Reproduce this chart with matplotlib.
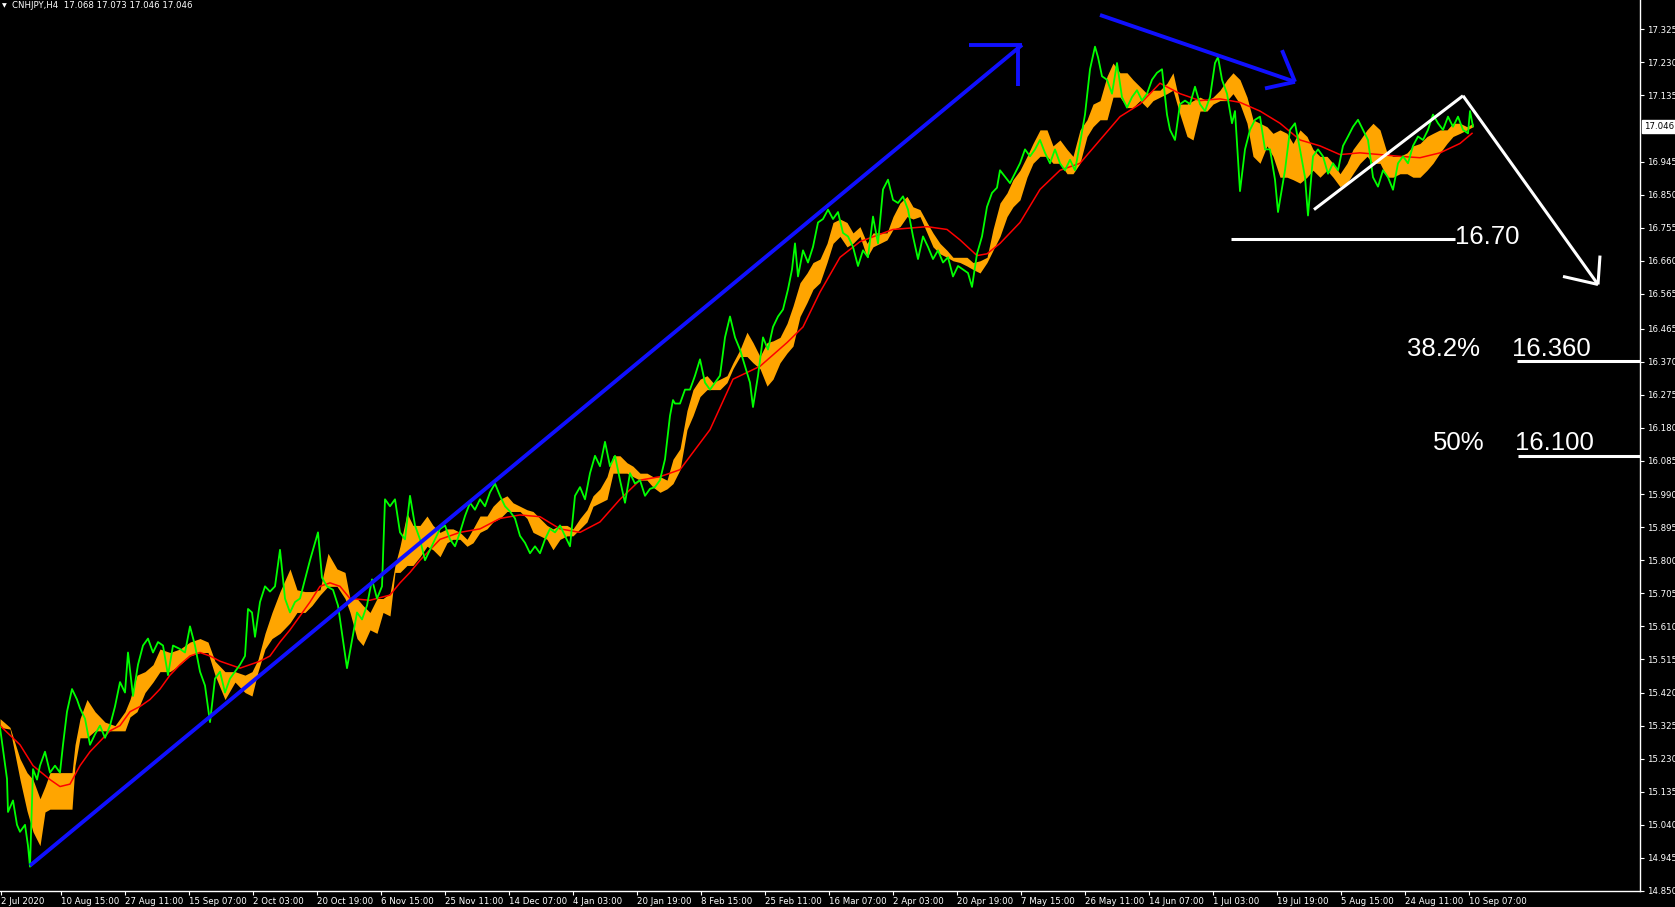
import matplotlib
matplotlib.use("Agg")
import matplotlib.pyplot as plt

# CNHJPY H4 (x = bar position, price in JPY)

green_x = [0, 7, 8, 13, 17, 20, 25, 28, 30, 33, 37, 40, 45, 50, 55, 60, 63, 67, 72, 77,
           80, 85, 90, 95, 100, 105, 110, 115, 120, 125, 128, 133, 138, 143, 148, 153, 158, 163, 168, 173,
           180, 185, 190, 195, 200, 205, 210, 215, 220, 225, 230, 235, 240, 245, 248, 252, 255, 260, 265, 270,
           275, 280, 285, 290, 295, 300, 305, 310, 315, 318, 322, 327, 333, 338, 342, 347, 352, 357, 362, 367,
           372, 377, 382, 385, 390, 395, 400, 405, 410, 415, 420, 425, 430, 435, 440, 445, 450, 455, 460, 465,
           470, 475, 480, 485, 490, 495, 500, 505, 510, 515, 520, 525, 530, 535, 540, 545, 550, 555, 560, 565,
           570, 575, 580, 585, 590, 595, 600, 605, 610, 615, 620, 625, 630, 635, 640, 645, 650, 655, 660, 665,
           670, 673, 675, 680, 685, 690, 695, 700, 705, 710, 715, 720, 725, 730, 735, 740, 745, 750, 753, 758,
           763, 768, 773, 778, 783, 788, 792, 795, 798, 803, 808, 813, 818, 823, 828, 833, 838, 843, 848, 853,
           858, 863, 868, 873, 878, 883, 888, 893, 898, 903, 908, 913, 918, 923, 928, 933, 938, 943, 948, 953,
           958, 963, 968, 972, 977, 982, 987, 992, 997, 1000, 1010, 1020, 1025, 1030, 1035, 1040, 1045, 1050, 1055, 1060,
           1065, 1070, 1075, 1080, 1085, 1090, 1095, 1098, 1102, 1107, 1112, 1117, 1122, 1127, 1132, 1137, 1142, 1147, 1152, 1157,
           1162, 1167, 1170, 1175, 1180, 1185, 1190, 1195, 1200, 1205, 1210, 1215, 1218, 1222, 1227, 1232, 1235, 1240, 1245, 1250,
           1255, 1260, 1265, 1270, 1275, 1278, 1285, 1290, 1295, 1300, 1305, 1308, 1313, 1318, 1323, 1328, 1333, 1338, 1343, 1348,
           1353, 1358, 1363, 1368, 1373, 1378, 1383, 1388, 1393, 1398, 1403, 1408, 1413, 1418, 1423, 1428, 1433, 1438, 1443, 1448,
           1453, 1458, 1463, 1468, 1470, 1473]
green_close = [15.32, 15.172, 15.077, 15.11, 15.04, 15.02, 15.04, 14.98, 14.92, 15.20, 15.17, 15.21, 15.25, 15.19, 15.21, 15.19, 15.27, 15.365, 15.43, 15.40,
               15.375, 15.345, 15.27, 15.30, 15.325, 15.29, 15.325, 15.38, 15.45, 15.42, 15.535, 15.41, 15.50, 15.555, 15.575, 15.535, 15.565, 15.555, 15.47, 15.555,
               15.545, 15.535, 15.61, 15.555, 15.48, 15.44, 15.335, 15.46, 15.48, 15.42, 15.46, 15.48, 15.50, 15.525, 15.66, 15.65, 15.58, 15.68, 15.725, 15.71,
               15.725, 15.83, 15.69, 15.65, 15.68, 15.69, 15.745, 15.80, 15.85, 15.88, 15.75, 15.725, 15.715, 15.67, 15.59, 15.49, 15.57, 15.65, 15.63, 15.67,
               15.745, 15.69, 15.725, 15.975, 15.955, 15.975, 15.88, 15.86, 15.985, 15.90, 15.86, 15.80, 15.83, 15.86, 15.89, 15.90, 15.86, 15.84, 15.88, 15.927,
               15.965, 15.945, 15.975, 15.955, 15.995, 16.02, 15.985, 15.955, 15.94, 15.92, 15.87, 15.85, 15.82, 15.84, 15.82, 15.86, 15.89, 15.88, 15.90, 15.87,
               15.84, 15.985, 16.01, 15.975, 16.05, 16.10, 16.07, 16.14, 16.07, 16.10, 16.03, 15.965, 16.05, 16.02, 16.03, 15.985, 16.005, 16.01, 16.03, 16.09,
               16.215, 16.26, 16.25, 16.25, 16.29, 16.29, 16.33, 16.377, 16.31, 16.29, 16.31, 16.33, 16.44, 16.50, 16.44, 16.405, 16.357, 16.31, 16.24, 16.33,
               16.44, 16.405, 16.47, 16.50, 16.52, 16.578, 16.635, 16.71, 16.615, 16.69, 16.655, 16.70, 16.77, 16.78, 16.807, 16.78, 16.80, 16.74, 16.73, 16.70,
               16.645, 16.69, 16.67, 16.787, 16.71, 16.865, 16.893, 16.835, 16.826, 16.845, 16.807, 16.73, 16.665, 16.73, 16.70, 16.665, 16.69, 16.655, 16.67, 16.615,
               16.645, 16.635, 16.625, 16.585, 16.68, 16.73, 16.815, 16.855, 16.87, 16.92, 16.883, 16.94, 16.98, 16.96, 16.98, 17.007, 16.97, 16.94, 16.98, 16.94,
               16.92, 16.95, 16.92, 16.997, 17.08, 17.21, 17.275, 17.245, 17.19, 17.18, 17.14, 17.228, 17.13, 17.10, 17.13, 17.15, 17.12, 17.14, 17.18, 17.20,
               17.21, 17.08, 17.036, 17.007, 17.11, 17.12, 17.11, 17.16, 17.11, 17.09, 17.13, 17.228, 17.245, 17.18, 17.14, 17.055, 17.09, 16.86, 16.98, 17.036,
               17.065, 17.074, 16.98, 16.98, 16.893, 16.80, 16.92, 17.036, 17.055, 16.98, 16.90, 16.79, 16.96, 16.98, 16.96, 16.91, 16.94, 16.92, 16.99, 17.017,
               17.045, 17.065, 17.036, 17.007, 16.90, 16.873, 16.92, 16.90, 16.864, 16.94, 16.96, 16.94, 16.99, 17.017, 17.007, 17.036, 17.08, 17.055, 17.036, 17.074,
               17.045, 17.074, 17.036, 17.026, 17.09, 17.046]

# orange cloud (upper / lower edge)
cloud_x = [0, 10, 20, 27, 33, 40, 45, 50, 60, 72, 75, 80, 87, 95, 105, 115, 125, 130, 137, 145,
           153, 160, 170, 180, 190, 200, 208, 215, 225, 235, 245, 252, 258, 265, 272, 280, 290, 297, 305, 312,
           320, 328, 337, 345, 350, 357, 363, 370, 377, 383, 390, 395, 400, 407, 413, 420, 427, 433, 440, 447,
           453, 460, 467, 473, 480, 487, 493, 500, 507, 513, 520, 527, 533, 540, 547, 553, 560, 567, 573, 580,
           587, 593, 600, 607, 613, 620, 627, 633, 640, 647, 653, 660, 667, 673, 680, 687, 693, 700, 707, 713,
           720, 727, 733, 740, 747, 753, 760, 767, 773, 780, 787, 793, 800, 807, 813, 820, 827, 833, 840, 847,
           853, 860, 867, 873, 880, 887, 893, 900, 907, 913, 920, 927, 933, 940, 947, 953, 960, 967, 973, 980,
           987, 993, 1000, 1007, 1013, 1020, 1027, 1033, 1040, 1047, 1053, 1060, 1067, 1073, 1080, 1087, 1093, 1100, 1107, 1113,
           1120, 1127, 1133, 1140, 1147, 1153, 1160, 1167, 1173, 1180, 1187, 1193, 1200, 1207, 1213, 1220, 1227, 1233, 1240, 1247,
           1253, 1260, 1267, 1273, 1280, 1287, 1293, 1300, 1307, 1313, 1320, 1327, 1333, 1340, 1347, 1353, 1360, 1367, 1373, 1380,
           1387, 1393, 1400, 1407, 1413, 1420, 1427, 1433, 1440, 1447, 1453, 1460, 1467, 1473]
cloud_top = [15.345, 15.32, 15.23, 15.19, 15.17, 15.115, 15.15, 15.19, 15.19, 15.19, 15.27, 15.345, 15.40, 15.365, 15.335, 15.325, 15.365, 15.40, 15.47, 15.48,
             15.50, 15.545, 15.535, 15.545, 15.565, 15.575, 15.565, 15.51, 15.48, 15.48, 15.47, 15.48, 15.515, 15.59, 15.65, 15.71, 15.775, 15.715, 15.71, 15.71,
             15.715, 15.82, 15.775, 15.765, 15.69, 15.69, 15.67, 15.65, 15.69, 15.69, 15.705, 15.785, 15.84, 15.935, 15.90, 15.90, 15.927, 15.90, 15.88, 15.89,
             15.89, 15.88, 15.86, 15.89, 15.927, 15.927, 15.955, 15.975, 15.985, 15.965, 15.955, 15.945, 15.94, 15.92, 15.90, 15.89, 15.90, 15.90, 15.89, 15.92,
             15.945, 15.985, 16.005, 16.04, 16.10, 16.10, 16.08, 16.07, 16.05, 16.05, 16.04, 16.04, 16.03, 16.09, 16.12, 16.23, 16.29, 16.32, 16.33, 16.31,
             16.32, 16.33, 16.367, 16.405, 16.455, 16.425, 16.385, 16.425, 16.43, 16.44, 16.48, 16.53, 16.597, 16.625, 16.655, 16.665, 16.71, 16.77, 16.78, 16.77,
             16.74, 16.758, 16.71, 16.74, 16.74, 16.74, 16.787, 16.826, 16.845, 16.815, 16.807, 16.77, 16.74, 16.71, 16.69, 16.67, 16.67, 16.67, 16.655, 16.66,
             16.67, 16.75, 16.826, 16.855, 16.893, 16.92, 16.96, 16.997, 17.036, 17.036, 16.99, 17.007, 16.98, 16.96, 17.036, 17.065, 17.11, 17.12, 17.19, 17.228,
             17.20, 17.20, 17.18, 17.16, 17.14, 17.15, 17.15, 17.17, 17.20, 17.11, 17.11, 17.12, 17.13, 17.12, 17.13, 17.15, 17.18, 17.20, 17.18, 17.13,
             17.065, 17.055, 17.045, 17.026, 17.036, 17.026, 16.997, 17.036, 17.017, 16.98, 16.96, 16.96, 16.94, 16.91, 16.94, 16.98, 17.007, 17.036, 17.055, 17.036,
             16.97, 16.96, 16.96, 16.97, 16.99, 16.997, 17.017, 17.026, 17.036, 17.036, 17.055, 17.055, 17.045, 17.055]
cloud_bot = [15.32, 15.315, 15.17, 15.08, 15.02, 14.98, 15.077, 15.085, 15.085, 15.085, 15.21, 15.29, 15.29, 15.31, 15.31, 15.31, 15.31, 15.35, 15.365, 15.42,
             15.45, 15.48, 15.48, 15.50, 15.525, 15.535, 15.535, 15.47, 15.40, 15.45, 15.42, 15.41, 15.48, 15.545, 15.575, 15.59, 15.62, 15.65, 15.65, 15.67,
             15.70, 15.725, 15.725, 15.69, 15.65, 15.575, 15.555, 15.60, 15.59, 15.65, 15.64, 15.765, 15.765, 15.785, 15.785, 15.81, 15.84, 15.83, 15.81, 15.85,
             15.86, 15.86, 15.84, 15.85, 15.88, 15.89, 15.91, 15.92, 15.94, 15.94, 15.94, 15.92, 15.88, 15.87, 15.86, 15.83, 15.86, 15.87, 15.87, 15.89,
             15.91, 15.955, 15.965, 15.975, 16.05, 16.05, 16.05, 16.04, 16.03, 16.03, 16.01, 15.995, 16.005, 16.02, 16.06, 16.175, 16.215, 16.27, 16.29, 16.29,
             16.29, 16.31, 16.35, 16.385, 16.385, 16.367, 16.35, 16.30, 16.32, 16.367, 16.395, 16.415, 16.50, 16.54, 16.578, 16.597, 16.655, 16.71, 16.73, 16.70,
             16.71, 16.73, 16.67, 16.70, 16.71, 16.72, 16.75, 16.758, 16.787, 16.78, 16.787, 16.74, 16.70, 16.68, 16.67, 16.66, 16.655, 16.645, 16.635, 16.625,
             16.655, 16.69, 16.73, 16.787, 16.815, 16.835, 16.90, 16.94, 16.96, 16.96, 16.94, 16.94, 16.91, 16.91, 16.94, 17.017, 17.045, 17.065, 17.065, 17.13,
             17.13, 17.10, 17.10, 17.12, 17.10, 17.12, 17.13, 17.14, 17.15, 17.08, 17.017, 17.007, 17.09, 17.09, 17.11, 17.12, 17.12, 17.14, 17.11, 17.055,
             16.96, 16.94, 16.99, 16.96, 16.90, 16.90, 16.893, 16.883, 16.90, 16.92, 16.90, 16.92, 16.90, 16.873, 16.883, 16.91, 16.94, 16.96, 16.94, 16.94,
             16.90, 16.90, 16.91, 16.91, 16.90, 16.90, 16.92, 16.94, 16.97, 16.997, 17.017, 17.026, 17.036, 17.045]

# red moving average
ma_x = [0, 20, 33, 50, 60, 70, 80, 90, 100, 110, 120, 130, 140, 150, 160, 170, 180, 190, 200, 210,
        220, 230, 240, 250, 260, 270, 280, 290, 300, 310, 320, 330, 340, 350, 370, 390, 400, 410, 420, 430,
        440, 460, 480, 500, 520, 540, 560, 580, 600, 620, 640, 660, 680, 710, 733, 760, 787, 803, 820, 840,
        860, 893, 927, 947, 960, 977, 987, 1000, 1020, 1040, 1060, 1080, 1100, 1120, 1140, 1160, 1180, 1200, 1220, 1240,
        1260, 1280, 1300, 1320, 1340, 1360, 1380, 1400, 1420, 1440, 1460, 1472]
ma_val = [15.325, 15.27, 15.21, 15.17, 15.15, 15.157, 15.21, 15.25, 15.28, 15.31, 15.325, 15.365, 15.38, 15.40, 15.43, 15.47, 15.50, 15.525, 15.535, 15.525,
          15.51, 15.50, 15.49, 15.50, 15.51, 15.525, 15.565, 15.60, 15.64, 15.68, 15.725, 15.735, 15.725, 15.69, 15.685, 15.70, 15.735, 15.765, 15.80, 15.83,
          15.86, 15.88, 15.89, 15.92, 15.93, 15.925, 15.89, 15.88, 15.91, 15.975, 16.03, 16.04, 16.06, 16.175, 16.32, 16.357, 16.425, 16.47, 16.57, 16.67,
          16.715, 16.75, 16.758, 16.75, 16.72, 16.675, 16.68, 16.71, 16.77, 16.865, 16.92, 16.94, 17.007, 17.074, 17.11, 17.17, 17.14, 17.12, 17.125, 17.115,
          17.09, 17.055, 17.007, 16.99, 16.965, 16.97, 16.965, 16.96, 16.956, 16.97, 16.997, 17.026]

# price scale and time scale labels
price_ticks = ["17.325", "17.230", "17.135", "16.945", "16.850", "16.755", "16.660", "16.565", "16.465",
               "16.370", "16.275", "16.180", "16.085", "15.990", "15.895", "15.800", "15.705", "15.610",
               "15.515", "15.420", "15.325", "15.230", "15.135", "15.040", "14.945", "14.850"]
time_labels = ["10 Aug 15:00", "27 Aug 11:00", "15 Sep 07:00", "2 Oct 03:00", "20 Oct 19:00", "6 Nov 15:00",
               "25 Nov 11:00", "14 Dec 07:00", "4 Jan 03:00", "20 Jan 19:00", "8 Feb 15:00", "25 Feb 11:00",
               "16 Mar 07:00", "2 Apr 03:00", "20 Apr 19:00", "7 May 15:00", "26 May 11:00", "14 Jun 07:00",
               "1 Jul 03:00", "19 Jul 19:00", "5 Aug 15:00", "24 Aug 11:00", "10 Sep 07:00"]
time_tick_pos = [61 + 64 * i for i in range(len(time_labels))]
last_price = 17.046

# drawn objects (bar, price)
up_trend = ([30, 1022], [14.923, 17.28])
up_head_h = ([969, 1022], [17.28, 17.28])
up_head_v = ([1018, 1018], [17.28, 17.163])
down_trend = ([1100, 1295], [17.366, 17.174])
down_head_1 = ([1282, 1295], [17.265, 17.174])
down_head_2 = ([1265, 1295], [17.155, 17.174])
wedge = ([1314, 1463], [16.807, 17.134])
drop = ([1463, 1598], [17.134, 16.592])
drop_head_1 = ([1600, 1598], [16.675, 16.592])
drop_head_2 = ([1563, 1598], [16.615, 16.592])
support = ([1231, 1455], [16.723, 16.723])
fib382 = ([1517, 1640], [16.373, 16.373])
fib50 = ([1518, 1640], [16.099, 16.099])

fig = plt.figure(figsize=(16.75, 9.07), dpi=100, facecolor="black")
ax = fig.add_axes([0, 16 / 907, 1640 / 1675, 891 / 907])
ax.set_facecolor("black")

ax.fill_between(cloud_x, cloud_bot, cloud_top, color="#FFA500", linewidth=0, zorder=1)
ax.plot(ma_x, ma_val, color="#FF0000", lw=1.1, zorder=2)
ax.plot(green_x, green_close, color="#00FF00", lw=1.3, zorder=3)

blue = "#1010FF"
for xs, ps in [up_trend, up_head_h, up_head_v, down_trend, down_head_1, down_head_2]:
    ax.plot(xs, ps, color=blue, lw=2.8, solid_capstyle="butt", zorder=4)
for xs, ps in [wedge, drop, drop_head_1, drop_head_2, support, fib382, fib50]:
    ax.plot(xs, ps, color="white", lw=2.2, solid_capstyle="butt", zorder=5, clip_on=False)

big = dict(color="white", fontsize=18.5, family="Liberation Sans", va="center", zorder=6)
ax.text(1455, 16.729, "16.70", **big)
ax.text(1407, 16.408, "38.2%", **big)
ax.text(1512, 16.408, "16.360", **big)
ax.text(1433, 16.137, "50%", **big)
ax.text(1515, 16.137, "16.100", **big)

ax.set_xlim(0, 1640)
ax.set_ylim(14.850, 17.409)

# axes like the terminal: price on the right, time at the bottom
ax.yaxis.tick_right()
ax.set_yticks([float(t) for t in price_ticks])
ax.set_yticklabels(price_ticks)
ax.set_xticks([1] + time_tick_pos)
ax.set_xticklabels(["2 Jul 2020"] + time_labels)
plt.setp(ax.get_xticklabels(), ha="left")
ax.tick_params(colors="white", labelcolor="white", labelsize=6.2, length=3, width=0.8, direction="out", pad=2)
ax.tick_params(axis="x", pad=1.5)
for side in ["left", "top"]:
    ax.spines[side].set_visible(False)
for side in ["right", "bottom"]:
    ax.spines[side].set_color("white")
    ax.spines[side].set_linewidth(1.0)
for lab in ax.get_yticklabels() + ax.get_xticklabels():
    lab.set_family("DejaVu Sans")

# current price box
ax.annotate(f"{last_price:.3f}", xy=(1.0, last_price), xycoords=("axes fraction", "data"),
            xytext=(3, 0), textcoords="offset points", ha="left", va="center", fontsize=6.2,
            color="black", bbox=dict(boxstyle="square,pad=0.25", fc="white", ec="white"), annotation_clip=False)

fig.text(2 / 1675, 1 - 6 / 907, "\u25bc", color="white", fontsize=4.5, va="center", ha="left")
fig.text(12 / 1675, 1 - 6 / 907, "CNHJPY,H4  17.068 17.073 17.046 17.046", color="white",
         fontsize=6.2, va="center", ha="left", family="DejaVu Sans")

plt.savefig("out.png", dpi=100, facecolor="black")
print("Graph saved: out.png")
